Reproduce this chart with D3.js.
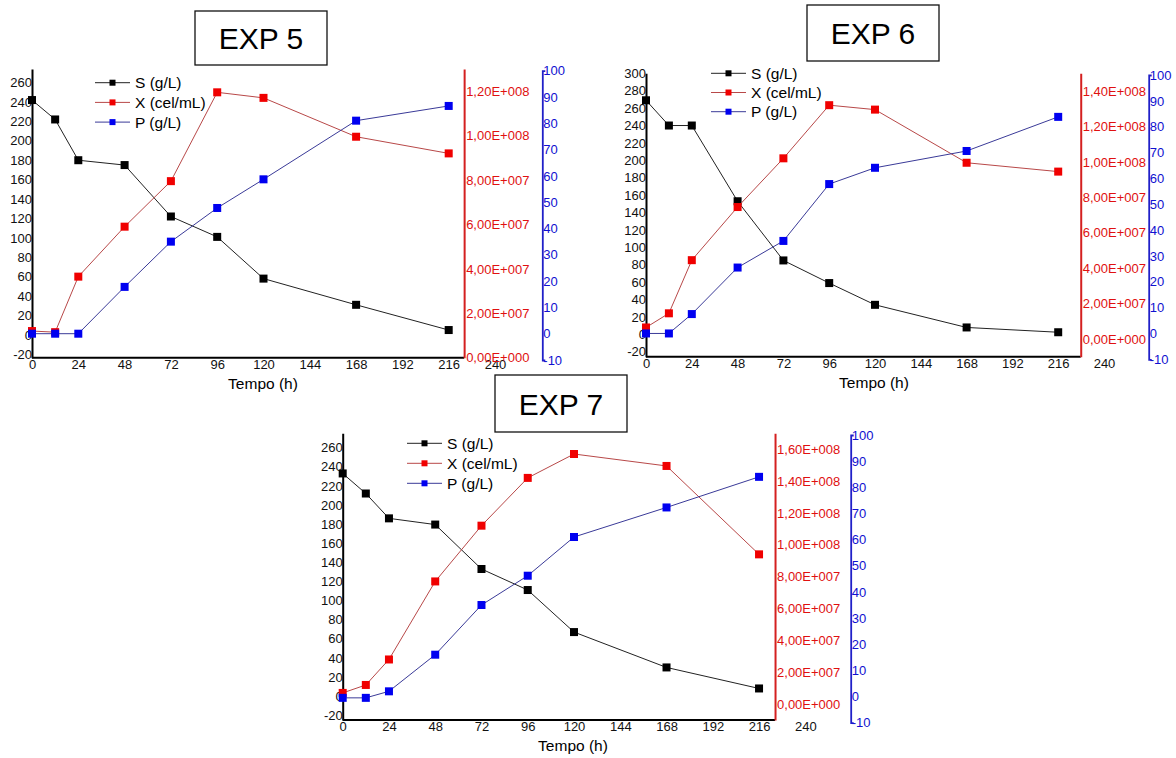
<!DOCTYPE html>
<html>
<head>
<meta charset="utf-8">
<script src="https://cdn.jsdelivr.net/npm/d3@7"></script>
<style>
  body { margin: 0; background: #fff; }
  text { font-family: Arial, "Liberation Sans", sans-serif; }
</style>
</head>
<body>
<script>
// Global variable
const w = 1176;
const h = 758;

// sampling times (h)
const tempo = [0, 12, 24, 48, 72, 96, 120, 168, 216];

// EXP 5
const s5 = [242, 222, 180, 175, 122, 101, 58, 31, 5];
const x5 = [1.2e7, 1.15e7, 3.65e7, 5.9e7, 7.95e7, 1.195e8, 1.17e8, 9.95e7, 9.2e7];
const p5 = [0, 0, 0, 17.8, 35, 47.8, 58.7, 81, 86.6];

// EXP 6
const s6 = [269, 240, 240, 153, 85, 59, 34, 8, 2.5];
const x6 = [6.5e6, 1.45e7, 4.45e7, 7.45e7, 1.02e8, 1.32e8, 1.295e8, 9.95e7, 9.45e7];
const p6 = [0, 0, 7.5, 25.5, 35.8, 57.8, 64.1, 70.6, 83.8];

// EXP 7
const s7 = [233, 212, 186, 179.5, 133, 111, 67, 30, 8];
const x7 = [7e6, 1.2e7, 2.8e7, 7.7e7, 1.12e8, 1.42e8, 1.57e8, 1.495e8, 9.4e7];
const p7 = [-0.5, -0.5, 2, 16, 35, 46.2, 61, 72.3, 84];

// tick labels
const tempoTicks = d3.range(0, 241, 24);
const sTicks5 = d3.range(-20, 261, 20);
const sTicks6 = d3.range(-20, 301, 20);
const sTicks7 = d3.range(-20, 261, 20);
const xTicks5 = d3.range(0, 1.21e8, 2e7);
const xTicks6 = d3.range(0, 1.41e8, 2e7);
const xTicks7 = d3.range(0, 1.61e8, 2e7);
const pTicks = d3.range(-10, 101, 10);
const legendNames = ["S (g/L)", "X (cel/mL)", "P (g/L)"];

const lineCol = ["#222", "#b84848", "#3a3a98"];
const markCol = ["#000", "#f00000", "#0000f0"];
const redAxis = "#d42020";
const blueAxis = "#2020c8";

let svg = d3.select("body")
            .append("svg")
                .attr("width", w)
                .attr("height", h);

// mantissa with comma, 3 digit exponent, like 1,20E+008
function sci(v) {
    if (v === 0) return "0,00E+000";
    let e = Math.floor(Math.log10(Math.abs(v)) + 1e-9);
    let m = v / Math.pow(10, e);
    return m.toFixed(2).replace(".", ",") + "E+" + String(e).padStart(3, "0");
}
// plain hyphen for negatives
const plain = (d) => String(d);

function panel(p) {
    let g = svg.append("g");

    let x = d3.scaleLinear().domain([0, 240]).range([p.left, p.right240]);
    let yS = d3.scaleLinear().domain(p.sDom).range([p.bottom, p.top]);
    let yX = d3.scaleLinear().domain(p.xDom).range([p.bottom, p.top]);
    let yP = d3.scaleLinear().domain([-10, 100]).range(p.pRange);

    // title box
    g.append("rect")
        .attr("x", p.box[0]).attr("y", p.box[1])
        .attr("width", p.box[2]).attr("height", p.box[3])
        .attr("fill", "#fff").attr("stroke", "#111").attr("stroke-width", 1.3);
    g.append("text")
        .attr("x", p.box[0] + p.box[2] / 2)
        .attr("y", p.box[1] + p.box[3] / 2 + 11)
        .attr("text-anchor", "middle")
        .attr("font-size", 30)
        .text(p.title);

    // x axis
    let xa = g.append("g")
        .attr("transform", "translate(0," + p.bottom + ")")
        .call(d3.axisBottom(x).tickValues(tempoTicks).tickSize(0).tickPadding(2).tickFormat(plain));
    xa.select(".domain").remove();
    xa.selectAll("text").attr("font-size", 13).attr("fill", "#111");
    g.append("line")
        .attr("x1", p.left).attr("x2", x(p.xEnd))
        .attr("y1", p.bottom).attr("y2", p.bottom)
        .attr("stroke", "#000").attr("stroke-width", 2);

    g.append("text")
        .attr("x", p.labelX).attr("y", p.bottom + 31)
        .attr("text-anchor", "middle")
        .attr("font-size", 15.5)
        .text("Tempo (h)");

    // left axis (S)
    let la = g.append("g")
        .attr("transform", "translate(" + p.left + ",0)")
        .call(d3.axisLeft(yS).tickValues(p.sTicks).tickSize(0).tickPadding(0).tickFormat(plain));
    la.select(".domain").attr("stroke", "#000").attr("stroke-width", 2);
    la.selectAll("text").attr("font-size", 13).attr("fill", "#111");

    // red axis (X)
    let ra = g.append("g")
        .attr("transform", "translate(" + x(p.xEnd) + ",0)")
        .call(d3.axisRight(yX).tickValues(p.xTicks).tickSize(0).tickPadding(2).tickFormat(sci));
    ra.select(".domain").attr("stroke", redAxis).attr("stroke-width", 2);
    ra.selectAll("text").attr("font-size", 13).attr("fill", "#e01010");

    // blue axis (P)
    let ba = g.append("g")
        .attr("transform", "translate(" + p.blueX + ",0)")
        .call(d3.axisRight(yP).tickValues(pTicks).tickSizeInner(0).tickSizeOuter(3).tickPadding(1).tickFormat(plain));
    ba.select(".domain").attr("stroke", blueAxis).attr("stroke-width", 1.8);
    ba.selectAll("text").attr("font-size", 13).attr("fill", "#1010d0");

    // series
    let series = [
        {vals: p.s, y: yS},
        {vals: p.x, y: yX},
        {vals: p.p, y: yP}
    ];
    series.forEach((s, i) => {
        let pts = tempo.map((t, j) => [x(t), s.y(s.vals[j])]);
        g.append("path")
            .attr("d", d3.line()(pts))
            .attr("fill", "none")
            .attr("stroke", lineCol[i])
            .attr("stroke-width", 1);
        g.selectAll(null)
            .data(pts)
            .enter()
            .append("rect")
            .attr("x", (d) => d[0] - 4)
            .attr("y", (d) => d[1] - 4)
            .attr("width", 8)
            .attr("height", 8)
            .attr("fill", markCol[i]);
    });

    // legend
    legendNames.forEach((name, i) => {
        let ly = p.legend[1] + i * p.legend[2];
        g.append("line")
            .attr("x1", p.legend[0]).attr("x2", p.legend[0] + 35)
            .attr("y1", ly).attr("y2", ly)
            .attr("stroke", lineCol[i]).attr("stroke-width", 1);
        g.append("rect")
            .attr("x", p.legend[0] + 14.5).attr("y", ly - 3)
            .attr("width", 6).attr("height", 6)
            .attr("fill", markCol[i]);
        g.append("text")
            .attr("x", p.legend[0] + 40).attr("y", ly + 5.5)
            .attr("font-size", 15.5)
            .text(name);
    });
}

panel({
    title: "EXP 5", box: [195, 11, 132, 54],
    left: 32, right240: 495, top: 69, bottom: 357.7, xEnd: 224,
    sDom: [-23.5, 274], xDom: [0, 1.3e8], pRange: [360, 70.7],
    blueX: 542.3, labelX: 263,
    sTicks: sTicks5, xTicks: xTicks5,
    s: s5, x: x5, p: p5,
    legend: [95, 82.7, 19.7]
});

panel({
    title: "EXP 6", box: [807, 5, 132, 56],
    left: 646, right240: 1104, top: 73.3, bottom: 356.7, xEnd: 227.8,
    sDom: [-25.6, 300], xDom: [-1e7, 1.5e8], pRange: [359.3, 75],
    blueX: 1148.7, labelX: 874,
    sTicks: sTicks6, xTicks: xTicks6,
    s: s6, x: x6, p: p6,
    legend: [711, 73.3, 19.2]
});

panel({
    title: "EXP 7", box: [495, 375, 132, 57],
    left: 342.7, right240: 805.3, top: 433.3, bottom: 720, xEnd: 224.3,
    sDom: [-25, 275], xDom: [-1e7, 1.7e8], pRange: [722.7, 435],
    blueX: 850.7, labelX: 573,
    sTicks: sTicks7, xTicks: xTicks7,
    s: s7, x: x7, p: p7,
    legend: [407, 443.3, 20]
});
</script>
</body>
</html>
